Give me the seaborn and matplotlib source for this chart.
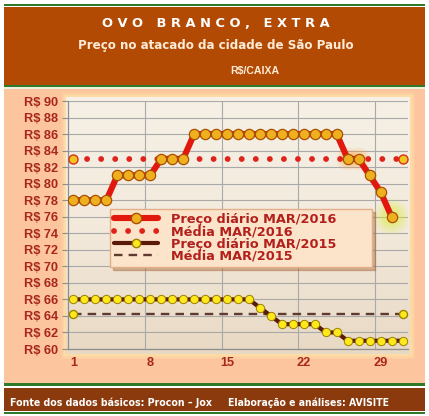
import numpy as np
import pandas as pd
import matplotlib
matplotlib.use("Agg")
import matplotlib.pyplot as plt
import seaborn as sns
from matplotlib import font_manager as fm
from matplotlib.patches import Rectangle
from matplotlib.lines import Line2D
from matplotlib.colors import LinearSegmentedColormap

# ---- data -------------------------------------------------------------
dias = list(range(1, 32))
preco_2016 = [78, 78, 78, 78, 81, 81, 81, 81, 83, 83, 83, 86, 86, 86, 86,
              86, 86, 86, 86, 86, 86, 86, 86, 86, 86, 83, 83, 81, 79, 76]
preco_2015 = [66, 66, 66, 66, 66, 66, 66, 66, 66, 66, 66, 66, 66, 66, 66,
              66, 66, 65, 64, 63, 63, 63, 63, 62, 62, 61, 61, 61, 61, 61, 61]
rotulos_series = ["Preço diário MAR/2016", "Média MAR/2016",
                  "Preço diário MAR/2015", "Média MAR/2015"]
x_ticks = [1, 8, 15, 22, 29]
y_ticks = list(range(60, 91, 2))
y_labels = [f"R$ {v}" for v in y_ticks]

media_2016 = float(np.mean(preco_2016))
media_2015 = float(np.mean(preco_2015))

df16 = pd.DataFrame({"dia": dias[:len(preco_2016)], "preco": preco_2016})
df15 = pd.DataFrame({"dia": dias, "preco": preco_2015})
dfm16 = pd.DataFrame({"dia": dias, "preco": [media_2016] * len(dias)})
dfm15 = pd.DataFrame({"dia": dias, "preco": [media_2015] * len(dias)})

# ---- style ------------------------------------------------------------
sns.set_style("white")
plt.rcParams["font.family"] = ["Liberation Sans", "DejaVu Sans"]

CONDENSED = ("condensed", "semi-condensed", "extra-condensed",
             "ultra-condensed", 100, 200, 300, 400)


def narrow_bold():
    """A condensed bold face if one is installed, else None."""
    for f in fm.fontManager.ttflist:
        name = f.name.lower()
        condensed = "narrow" in name or "condensed" in name or f.stretch in CONDENSED
        if condensed and f.weight in ("bold", 700):
            return f.fname
    return None


NARROW = narrow_bold()


def narrow_font(size=9):
    if NARROW:
        return fm.FontProperties(fname=NARROW, size=size)
    return fm.FontProperties(family="Liberation Sans", weight="bold", size=size)


W, H = 429, 416
fig = plt.figure(figsize=(W / 100, H / 100), dpi=100)
fig.patch.set_facecolor("white")
renderer = fig.canvas.get_renderer()


def fit_width(txt, target_px, max_size=None):
    """Scale a text's font size so that it spans about target_px."""
    w = txt.get_window_extent(renderer).width
    size = txt.get_fontsize() * target_px / w
    if max_size is not None:
        size = min(size, max_size)
    txt.set_fontsize(size)
    return txt


def band(y0, y1, color, x0=4, x1=425, z=0):
    fig.patches.append(Rectangle((x0 / W, 1 - y1 / H), (x1 - x0) / W,
                                 (y1 - y0) / H, transform=fig.transFigure,
                                 facecolor=color, edgecolor="none", zorder=z))


GREEN = "#2F7A2A"
band(3.5, 5.5, GREEN)
band(7, 84.5, "#B24A03")
band(85, 87.5, GREEN)
band(87.5, 89, "#E9F2DF")
band(89, 382.5, "#FCC59E")
band(383, 385.5, GREEN)
band(387.5, 411, "#8B3A0D")
band(411.5, 413.5, GREEN)

# header and footer texts
t = fig.text(216 / W, 1 - 26.7 / H, "O V O   B R A N C O ,   E X T R A",
             family="DejaVu Sans", weight="bold", size=9, color="white",
             ha="center", va="baseline")
fit_width(t, 232, max_size=9.4)
t = fig.text(216 / W, 1 - 48.5 / H, "Preço no atacado da cidade de São Paulo",
             family="DejaVu Sans", weight="bold", size=8.3, color="#FDEBD6",
             ha="center", va="baseline")
fit_width(t, 300, max_size=8.6)
fig.text(255 / W, 1 - 74 / H, "R$/CAIXA", family="Liberation Sans",
         weight="bold", size=7.6, color="#FDEBD6", ha="center", va="baseline")
t = fig.text(10 / W, 1 - 405.5 / H, "Fonte dos dados básicos: Procon – Jox",
             fontproperties=narrow_font(), color="white",
             ha="left", va="baseline")
fit_width(t, 202, max_size=9.2)
t = fig.text(308 / W, 1 - 405.5 / H, "Elaboração e análises: AVISITE",
             fontproperties=narrow_font(), color="white",
             ha="center", va="baseline")
fit_width(t, 162, max_size=9.2)

# plot panel with a soft glowing rim (rim drawn beneath the panel)
for pad, a in [(5, 0.25), (3.5, 0.35), (2, 0.5)]:
    fig.patches.append(Rectangle(((66 - pad) / W, 1 - (354 + pad) / H),
                                 (344 + 2 * pad) / W, (257 + 2 * pad) / H,
                                 transform=fig.transFigure,
                                 facecolor="#FFE2A8", edgecolor="none",
                                 alpha=a, zorder=0.5))
bg = fig.add_axes([66 / W, 1 - 354 / H, 344 / W, 257 / H], zorder=1)
grad = LinearSegmentedColormap.from_list("panel", ["#F6F0E6", "#F3EADC", "#E8D9C4"])
bg.imshow(np.linspace(0, 1, 64).reshape(-1, 1), aspect="auto", cmap=grad,
          extent=[0, 1, 0, 1], origin="upper")
bg.set_axis_off()

ax = fig.add_axes([68 / W, 1 - 349 / H, 340 / W, 248 / H], zorder=2)
ax.patch.set_alpha(0)

# ---- series -----------------------------------------------------------
# glow around the last days of 2016
last = df16.iloc[-1]
for s, a in [(700, 0.10), (480, 0.14), (300, 0.18), (180, 0.22)]:
    ax.scatter(last["dia"], last["preco"], s=s, color="#D9EE3A", alpha=a,
               edgecolors="none", zorder=2)
for i in (25, 26):
    for s, a in [(260, 0.12), (150, 0.18)]:
        ax.scatter(df16["dia"][i], df16["preco"][i], s=s, color="#FF9A2A",
                   alpha=a, edgecolors="none", zorder=2)

sns.lineplot(data=dfm16, x="dia", y="preco", ax=ax, color="#E0231A",
             linewidth=4.2, linestyle=(0, (0.01, 2.4)),
             dash_capstyle="round", zorder=3)
ax.plot(dfm16["dia"].iloc[[0, -1]], dfm16["preco"].iloc[[0, -1]],
        linestyle="none", marker="o", markersize=6.5,
        markerfacecolor="#F2C620", markeredgecolor="#D8301A", zorder=3)

sns.lineplot(data=dfm15, x="dia", y="preco", ax=ax, color="#5E3A30",
             linewidth=1.7, linestyle=(0, (3.6, 2.6)), zorder=3)
ax.plot(dfm15["dia"].iloc[[0, -1]], dfm15["preco"].iloc[[0, -1]],
        linestyle="none", marker="o", markersize=5.8,
        markerfacecolor="#FFE81C", markeredgecolor="#A08400", zorder=3)

sns.lineplot(data=df16, x="dia", y="preco", ax=ax, color="#E2180E",
             linewidth=4.4, marker="o", markersize=7.4,
             markerfacecolor="#EFB020", markeredgecolor="#A85000",
             markeredgewidth=0.9, zorder=5)
sns.lineplot(data=df15, x="dia", y="preco", ax=ax, color="#5A1A08",
             linewidth=3.0, marker="o", markersize=6.0,
             markerfacecolor="#FFE81C", markeredgecolor="#9C8000",
             markeredgewidth=0.7, zorder=5)

# ---- axes -------------------------------------------------------------
ax.set_xlim(0.5, 31.5)
ax.set_ylim(60, 90)
ax.set_xticks(x_ticks)
ax.set_xticklabels([str(d) for d in x_ticks])
ax.set_xticks([7.5, 14.5, 21.5, 28.5], minor=True)
ax.set_yticks(y_ticks)
ax.set_yticklabels(y_labels)
ax.set_xlabel("")
ax.set_ylabel("")

TICK_COLOR = "#A8261C"
for lab in ax.get_yticklabels() + ax.get_xticklabels():
    lab.set_fontweight("bold")
    lab.set_fontsize(9.2)
    lab.set_color(TICK_COLOR)
ax.tick_params(axis="y", which="major", length=4.3, width=0.8,
               color="#8E8E8E", pad=3.0, left=True)
ax.tick_params(axis="x", which="both", length=0, pad=6)

ax.grid(False)
ax.grid(True, axis="y", which="major", color="#A9A9A9", linewidth=0.8)
ax.grid(True, axis="x", which="minor", color="#A9A9A9", linewidth=0.8)
ax.set_axisbelow(True)
for side in ("top", "right"):
    ax.spines[side].set_visible(False)
for side in ("left", "bottom"):
    ax.spines[side].set_color("#8E8E8E")
    ax.spines[side].set_linewidth(0.9)

# ---- legend -----------------------------------------------------------
handles = [
    Line2D([], [], color="#E2180E", linewidth=4.4, marker="o", markersize=7.4,
           markerfacecolor="#EFB020", markeredgecolor="#A85000"),
    Line2D([], [], color="#E0231A", linewidth=4.2,
           linestyle=(0, (0.01, 2.4)), dash_capstyle="round"),
    Line2D([], [], color="#5A1A08", linewidth=3.0, marker="o", markersize=6.0,
           markerfacecolor="#FFE81C", markeredgecolor="#9C8000"),
    Line2D([], [], color="#5E3A30", linewidth=1.7, linestyle=(0, (3.6, 2.6))),
]
leg = ax.legend(handles, rotulos_series, loc="upper left", mode="expand",
                bbox_to_anchor=(110 / W, 1 - 272 / H, 262 / W, 63 / H),
                bbox_transform=fig.transFigure, borderaxespad=0,
                prop={"family": "DejaVu Sans", "weight": "bold", "size": 9.3},
                labelcolor="#B3201C", frameon=True, fancybox=False,
                facecolor="#FCE4CB", edgecolor="#E2AF86", framealpha=1,
                shadow={"color": "#A8683C", "alpha": 0.45},
                handlelength=3.4, handletextpad=1.0, labelspacing=-0.05,
                borderpad=0.3, numpoints=1)
leg.set_zorder(10)

fig.savefig("out.png", dpi=100, facecolor=fig.get_facecolor())
